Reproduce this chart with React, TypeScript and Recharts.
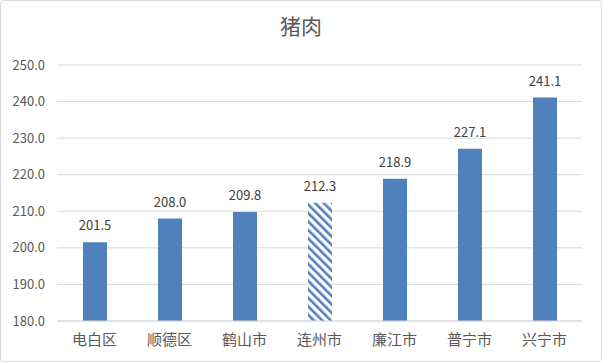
import { BarChart, Bar, XAxis, YAxis, CartesianGrid, Cell, LabelList } from 'recharts'

const categories = ['电白区', '顺德区', '鹤山市', '连州市', '廉江市', '普宁市', '兴宁市']
const values = [201.5, 208.0, 209.8, 212.3, 218.9, 227.1, 241.1]
const yTicks = [180, 190, 200, 210, 220, 230, 240, 250]
const hatchedIndex = 3

const data = categories.map((name, i) => ({ name, value: values[i] }))

const FONT = '"Noto Sans CJK SC", "Noto Sans", sans-serif'

export default function App() {
  return (
    <div
      style={{
        position: 'absolute',
        left: 0,
        top: 0,
        width: 600,
        height: 360,
        border: '1px solid #d9d9d9',
        borderRadius: 4,
        background: '#fff',
        fontFamily: FONT,
      }}
    >
      <div
        style={{
          position: 'absolute',
          top: 9,
          width: '100%',
          textAlign: 'center',
          fontSize: 21,
          color: '#595959',
        }}
      >
        猪肉
      </div>
      <BarChart
        width={600}
        height={360}
        data={data}
        margin={{ top: 64, right: 19, bottom: 8, left: 0 }}
        barSize={24}
      >
        <defs>
          <pattern id="hatch" width="6" height="6" patternUnits="userSpaceOnUse" patternTransform="rotate(-45)">
            <rect width="6" height="6" fill="#fff" />
            <rect width="2.6" height="6" fill="#4F81BD" />
          </pattern>
        </defs>
        <CartesianGrid vertical={false} stroke="#d9d9d9" />
        <XAxis
          dataKey="name"
          axisLine={{ stroke: '#d9d9d9' }}
          tickLine={false}
          height={32}
          tick={{ fill: '#595959', fontSize: 15, fontFamily: FONT }}
          tickMargin={7}
        />
        <YAxis
          domain={[180, 250]}
          ticks={yTicks}
          width={56}
          axisLine={false}
          tickLine={false}
          tickMargin={6}
          tickFormatter={(v: number) => v.toFixed(1)}
          tick={{ fill: '#595959', fontSize: 13, fontFamily: FONT }}
        />
        <Bar dataKey="value" isAnimationActive={false}>
          {data.map((d, i) => (
            <Cell key={d.name} fill={i === hatchedIndex ? 'url(#hatch)' : '#4F81BD'} />
          ))}
          <LabelList
            dataKey="value"
            position="top"
            offset={12}
            formatter={(v: number) => v.toFixed(1)}
            style={{ fill: '#404040', fontSize: 13, fontFamily: FONT }}
          />
        </Bar>
      </BarChart>
    </div>
  )
}
